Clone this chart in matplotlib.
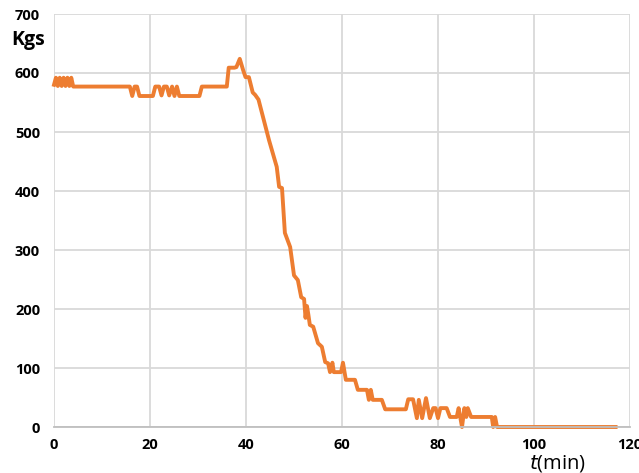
import matplotlib
matplotlib.use("Agg")
import matplotlib.pyplot as plt

t_min = [0, 0.4, 0.8, 1.2, 1.6, 2.0, 2.4, 2.8, 3.2, 3.6, 4.0, 15.8, 16.3, 16.8, 17.3, 17.8,
         20.6, 21.1, 21.9, 22.4, 22.9, 23.5, 24.0, 24.6, 25.1, 25.6, 26.1, 30.3, 30.8, 36.0,
         36.4, 37.6, 38.0, 38.7, 39.4, 39.9, 40.6, 41.4, 41.9, 42.6, 44.8, 46.4, 46.9, 47.5,
         48.1, 49.2, 50.0, 50.8, 51.5, 52.1, 52.4, 52.7, 53.0, 53.3, 54.0, 55.0, 55.8, 56.5,
         57.1, 57.5, 58.0, 58.3, 59.8, 60.2, 60.8, 62.7, 63.3, 65.2, 65.6, 66.0, 66.4, 68.3,
         69.0, 73.3, 73.8, 74.8, 75.6, 76.0, 76.7, 77.5, 78.3, 79.0, 79.5, 80.0, 80.5, 81.8,
         82.5, 83.9, 84.3, 85.0, 85.5, 85.9, 86.2, 86.9, 91.2, 91.5, 91.9, 92.3, 117]
kgs = [580, 592, 578, 592, 578, 592, 578, 592, 578, 592, 577, 577, 561, 577, 577, 561,
       561, 577, 577, 562, 577, 577, 562, 577, 561, 577, 561, 561, 577, 577,
       609, 609, 610, 624, 605, 593, 593, 567, 563, 555, 486, 441, 407, 405,
       329, 305, 257, 249, 220, 217, 185, 205, 190, 173, 170, 142, 136, 110,
       108, 93, 109, 93, 93, 109, 80, 80, 63, 63, 46, 63, 46, 46,
       30, 30, 47, 47, 15, 46, 15, 49, 15, 32, 32, 15, 32, 32,
       17, 17, 32, 0, 32, 17, 32, 17, 17, 0, 17, 0, 0]

x_ticks = [0, 20, 40, 60, 80, 100, 120]
y_ticks = [0, 100, 200, 300, 400, 500, 600, 700]

fig = plt.figure(figsize=(6.39, 4.73), dpi=100)
ax = fig.add_axes([54/639, 1-427/473, 576/639, 413/473])
ax.set_xlim(0, 120)
ax.set_ylim(0, 700)
ax.set_xticks(x_ticks)
ax.set_yticks(y_ticks)
ax.grid(True, color="#D9D9D9", linewidth=1.3)
ax.set_axisbelow(True)
for s in ["top", "right", "left"]:
    ax.spines[s].set_visible(False)
ax.spines["bottom"].set_color("#BFBFBF")
ax.spines["bottom"].set_linewidth(1.3)
ax.tick_params(length=0, labelsize=10.5, colors="#000000")
ax.tick_params(axis="x", pad=8)
ax.tick_params(axis="y", pad=10)
for lab in ax.get_xticklabels() + ax.get_yticklabels():
    lab.set_fontweight("bold")
    lab.set_family("Open Sans")

ax.plot(t_min, kgs, color="#ED7D31", linewidth=2.8, solid_joinstyle="round", clip_on=False)

fig.text(28/639, 1-40/473, "Kgs", ha="center", va="center", fontsize=14,
         fontweight="bold", family="Open Sans")
fig.text(558/639, 1-463/473, r"$\it{t}$(min)", ha="center", va="center", fontsize=14.5,
         family="Open Sans")

fig.savefig("out.png", dpi=100)
